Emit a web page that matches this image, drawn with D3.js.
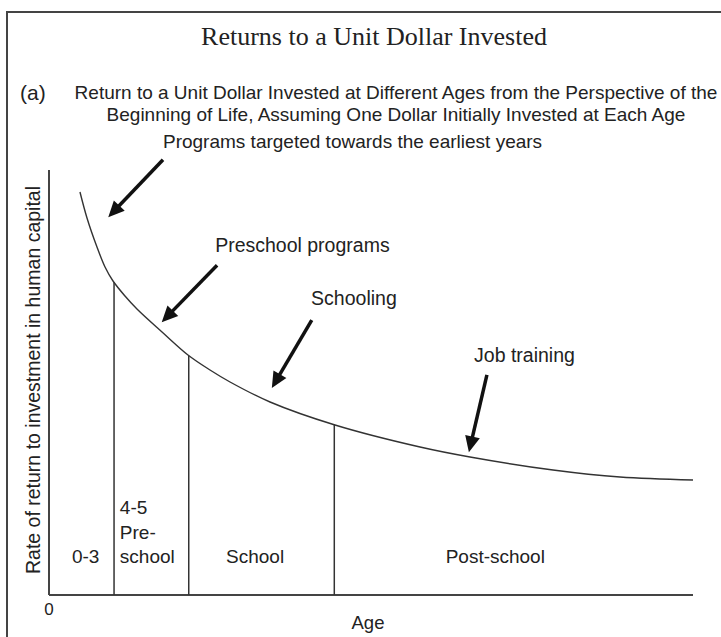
<!DOCTYPE html>
<html>
<head>
<meta charset="utf-8">
<script src="https://cdn.jsdelivr.net/npm/d3@7"></script>
<style>
  body { margin: 0; background: #fff; }
  text { font-family: Arial, "Liberation Sans", sans-serif; fill: #222; }
</style>
</head>
<body>
<svg id="chart"></svg>
<script>
// return curve (age in axis units 0-100, return in 0-100)
const ages = [4.81, 5.90, 7.45, 8.70, 9.94, 11.80, 13.66, 17.55, 21.58, 25.0, 28.11, 34.32, 44.41, 57.61, 65.37, 78.26, 88.66, 100];
const returns = [94.82, 88.71, 81.88, 77.18, 73.88, 70.35, 67.29, 61.88, 56.47, 52.94, 50.12, 45.41, 40.0, 34.82, 32.47, 29.41, 27.76, 27.06];

// stage dividers and labels
const stageEnds = [10.1, 21.7, 44.3];
const stageTops = [73.6, 56.3, 40.1];
const stageLabels = [["0-3"], ["4-5", "Pre-", "school"], ["School"], ["Post-school"]];
const stageLabelAges = [5.7, 11.0, 32.0, 69.3];
const stageAnchors = ['middle', 'start', 'middle', 'middle'];

// annotations: label + arrow
const notes = ["Programs targeted towards the earliest years", "Preschool programs", "Schooling", "Job training"];
const noteAt = [[17.7, 105.2], [25.8, 80.7], [40.7, 68.2], [66.0, 54.8]];
const arrowFrom = [[17.7, 102.4], [26.1, 77.6], [40.8, 64.7], [68.0, 51.8]];
const arrowTo = [[9.2, 88.9], [17.5, 64.2], [34.6, 48.7], [65.2, 33.6]];

const width = 721;
const height = 637;

const svg = d3.select('#chart')
  .attr('width', width)
  .attr('height', height);

// frame
svg.append('rect')
  .attr('x', 7).attr('y', 12)
  .attr('width', width + 10).attr('height', height + 10)
  .attr('fill', 'none')
  .attr('stroke', '#444')
  .attr('stroke-width', 2);

const x = d3.scaleLinear().domain([0, 100]).range([49, 693]);
const y = d3.scaleLinear().domain([0, 100]).range([595, 170]);

// titles
svg.append('text')
  .attr('x', 374).attr('y', 45)
  .attr('text-anchor', 'middle')
  .style('font-family', '"Liberation Serif", "Times New Roman", serif')
  .style('font-size', '26px')
  .text('Returns to a Unit Dollar Invested');

svg.append('text')
  .attr('x', 20).attr('y', 100)
  .style('font-size', '21px')
  .text('(a)');

svg.append('text')
  .attr('x', 396).attr('y', 99)
  .attr('text-anchor', 'middle')
  .style('font-size', '19px')
  .text('Return to a Unit Dollar Invested at Different Ages from the Perspective of the');

svg.append('text')
  .attr('x', 396).attr('y', 121)
  .attr('text-anchor', 'middle')
  .style('font-size', '19px')
  .text('Beginning of Life, Assuming One Dollar Initially Invested at Each Age');

// axes (plain lines, no ticks)
const axisG = svg.append('g');
axisG.append('line')
  .attr('x1', x(0)).attr('x2', x(0))
  .attr('y1', y(0)).attr('y2', y(100))
  .attr('stroke', '#444').attr('stroke-width', 2);
axisG.append('line')
  .attr('x1', x(0)).attr('x2', x(100))
  .attr('y1', y(0)).attr('y2', y(0))
  .attr('stroke', '#444').attr('stroke-width', 2);

svg.append('text')
  .attr('x', x(0)).attr('y', 615)
  .attr('text-anchor', 'middle')
  .style('font-size', '17px')
  .text('0');

svg.append('text')
  .attr('x', 368).attr('y', 629)
  .attr('text-anchor', 'middle')
  .style('font-size', '18.5px')
  .text('Age');

svg.append('text')
  .attr('transform', 'translate(40,380) rotate(-90)')
  .attr('text-anchor', 'middle')
  .style('font-size', '19.5px')
  .text('Rate of return to investment in human capital');

// stage dividers
svg.selectAll('.divider')
  .data(stageEnds)
  .enter().append('line')
    .attr('class', 'divider')
    .attr('x1', d => x(d)).attr('x2', d => x(d))
    .attr('y1', y(0))
    .attr('y2', (d, i) => y(stageTops[i]))
    .attr('stroke', '#333')
    .attr('stroke-width', 1.5);

// curve
const line = d3.line()
  .x(d => x(d[0]))
  .y(d => y(d[1]))
  .curve(d3.curveCatmullRom.alpha(0.5));

svg.append('path')
  .datum(ages.map((a, i) => [a, returns[i]]))
  .attr('d', line)
  .attr('fill', 'none')
  .attr('stroke', '#333')
  .attr('stroke-width', 1.4);

// stage labels
stageLabels.forEach((lines, i) => {
  const t = svg.append('text')
    .attr('x', x(stageLabelAges[i]))
    .attr('text-anchor', stageAnchors[i])
    .style('font-size', '19px');
  lines.forEach((s, j) => {
    t.append('tspan')
      .attr('x', x(stageLabelAges[i]))
      .attr('y', 563 - (lines.length - 1 - j) * 24.5)
      .text(s);
  });
});

// annotations
notes.forEach((s, i) => {
  svg.append('text')
    .attr('x', x(noteAt[i][0]))
    .attr('y', y(noteAt[i][1]))
    .style('font-size', i === 0 ? '19px' : '19.5px')
    .text(s);

  const x0 = x(arrowFrom[i][0]), y0 = y(arrowFrom[i][1]);
  const x1 = x(arrowTo[i][0]), y1 = y(arrowTo[i][1]);
  const ang = Math.atan2(y1 - y0, x1 - x0);
  const headLen = 16, headW = 7.5;
  const bx = x1 - headLen * Math.cos(ang), by = y1 - headLen * Math.sin(ang);

  svg.append('line')
    .attr('x1', x0).attr('y1', y0)
    .attr('x2', bx + 2 * Math.cos(ang)).attr('y2', by + 2 * Math.sin(ang))
    .attr('stroke', '#111')
    .attr('stroke-width', 3.5);

  svg.append('path')
    .attr('d', 'M' + x1 + ',' + y1
      + 'L' + (bx + headW * Math.sin(ang)) + ',' + (by - headW * Math.cos(ang))
      + 'L' + (bx - headW * Math.sin(ang)) + ',' + (by + headW * Math.cos(ang)) + 'Z')
    .attr('fill', '#111');
});
</script>
</body>
</html>
